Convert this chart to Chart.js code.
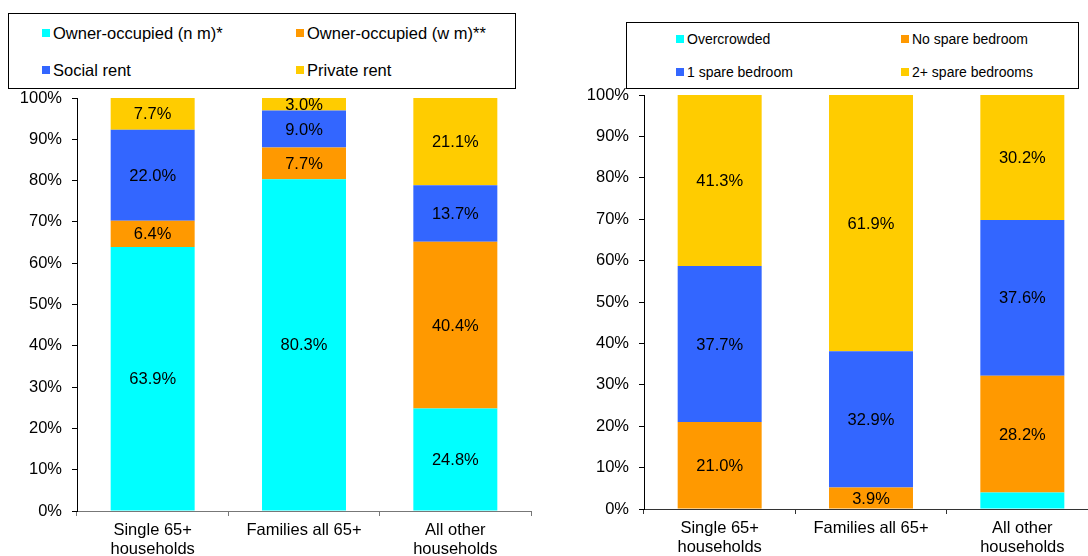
<!DOCTYPE html>
<html>
<head>
<meta charset="utf-8">
<script src="https://cdn.jsdelivr.net/npm/chart.js@4/dist/chart.umd.min.js"></script>
<style>
  html, body { margin:0; padding:0; width:1088px; height:556px; overflow:hidden; background:#fff; font-family:"Liberation Sans", Arial, sans-serif; }
  .wrap { position:absolute; top:0; }
  .legend { position:absolute; border:1px solid #000; box-sizing:border-box; background:#fff; }
  .item { position:absolute; display:flex; align-items:center; white-space:nowrap; color:#000; }
  .sw { width:8px; height:8px; margin-right:3px; flex:none; }
</style>
</head>
<body>
<div class="wrap" style="left:0;width:544px;height:556px;"><canvas id="c1"></canvas></div>
<div class="wrap" style="left:544px;width:560px;height:556px;"><canvas id="c2"></canvas></div>
<div id="lg1" class="legend" style="left:8px;top:13px;width:508px;height:76px;"></div>
<div id="lg2" class="legend" style="left:626px;top:22px;width:453px;height:67px;"></div>
<script>
// ---- data ----
const categories = [['Single 65+', 'households'], ['Families all 65+'], ['All other', 'households']];
const yTicks = [0, 10, 20, 30, 40, 50, 60, 70, 80, 90, 100];

const tenureNames = ['Owner-occupied (n m)*', 'Owner-occupied (w m)**', 'Social rent', 'Private rent'];
const ownerNoMortgage = [63.9, 80.3, 24.8];
const ownerWithMortgage = [6.4, 7.7, 40.4];
const socialRent = [22.0, 9.0, 13.7];
const privateRent = [7.7, 3.0, 21.1];

const bedroomNames = ['Overcrowded', 'No spare bedroom', '1 spare bedroom', '2+ spare bedrooms'];
const overcrowded = [0, 0, 4.0];
const noSpareBedroom = [21.0, 5.2, 28.2];
const noSpareBedroomText = ['21.0%', '3.9%', '28.2%'];
const oneSpareBedroom = [37.7, 32.9, 37.6];
const twoPlusSpareBedrooms = [41.3, 61.9, 30.2];

const colors = ['#00FFFF', '#FF9900', '#3366FF', '#FFCC00'];

// ---- helpers ----
const FONT = '"Liberation Sans", Arial, sans-serif';
const pct = arr => arr.map(v => v.toFixed(1) + '%');

const segLabels = {
  id: 'segLabels',
  afterDatasetsDraw(chart) {
    const ctx = chart.ctx, a = chart.chartArea;
    ctx.save();
    ctx.beginPath();
    ctx.rect(a.left, a.top, a.right - a.left, a.bottom - a.top);
    ctx.clip();
    ctx.font = '16.5px ' + FONT;
    ctx.fillStyle = '#000';
    ctx.textAlign = 'center';
    ctx.textBaseline = 'middle';
    chart.data.datasets.forEach((ds, i) => {
      if (!ds.labelText) return;
      chart.getDatasetMeta(i).data.forEach((el, j) => {
        const t = ds.labelText[j];
        if (!t) return;
        ctx.fillText(t, el.x, (el.y + el.base) / 2 + 1);
      });
    });
    ctx.restore();
  }
};

function makeChart(id, datasets, opts) {
  return new Chart(document.getElementById(id), {
    type: 'bar',
    data: { labels: categories, datasets },
    plugins: [segLabels],
    options: {
      responsive: true,
      maintainAspectRatio: false,
      animation: false,
      layout: { padding: { top: opts.top, right: opts.right, left: 0, bottom: 0 } },
      plugins: { legend: { display: false }, tooltip: { enabled: false } },
      datasets: { bar: { categoryPercentage: 1.0, barPercentage: 0.555, borderWidth: 0 } },
      scales: {
        x: {
          stacked: true,
          afterFit: s => { s.height = opts.xh; },
          grid: { offset: true, drawOnChartArea: false, drawTicks: true, tickLength: 5, color: opts.xColor, lineWidth: 1 },
          border: { display: true, color: opts.xColor, width: 1 },
          ticks: { color: '#000', font: { family: FONT, size: 16.5, lineHeight: 1.15 }, padding: 5, maxRotation: 0, autoSkip: false }
        },
        y: {
          stacked: true,
          min: 0, max: 100,
          afterFit: s => { s.width = opts.yw; },
          afterBuildTicks: s => { s.ticks = yTicks.map(v => ({ value: v })); },
          grid: { drawOnChartArea: false, drawTicks: true, tickLength: 5, color: '#000', lineWidth: 1 },
          border: { display: true, color: '#000', width: 1 },
          ticks: { color: '#000', font: { family: FONT, size: 16.5 }, padding: 10, callback: v => v + '%' }
        }
      }
    }
  });
}

makeChart('c1', [
  { label: tenureNames[0], data: ownerNoMortgage, backgroundColor: colors[0], labelText: pct(ownerNoMortgage) },
  { label: tenureNames[1], data: ownerWithMortgage, backgroundColor: colors[1], labelText: pct(ownerWithMortgage) },
  { label: tenureNames[2], data: socialRent, backgroundColor: colors[2], labelText: pct(socialRent) },
  { label: tenureNames[3], data: privateRent, backgroundColor: colors[3], labelText: pct(privateRent) }
], { top: 98, right: 13, xh: 45, yw: 77, xColor: '#777' });

makeChart('c2', [
  { label: bedroomNames[0], data: overcrowded, backgroundColor: colors[0], labelText: null },
  { label: bedroomNames[1], data: noSpareBedroom, backgroundColor: colors[1], labelText: noSpareBedroomText },
  { label: bedroomNames[2], data: oneSpareBedroom, backgroundColor: colors[2], labelText: pct(oneSpareBedroom) },
  { label: bedroomNames[3], data: twoPlusSpareBedrooms, backgroundColor: colors[3], labelText: pct(twoPlusSpareBedrooms) }
], { top: 95, right: 6, xh: 47, yw: 100, xColor: '#333' });

// ---- HTML legends (two columns, two rows) ----
function buildLegend(elId, names, cols, rows, fontSize) {
  const box = document.getElementById(elId);
  names.forEach((n, i) => {
    const it = document.createElement('div');
    it.className = 'item';
    it.style.left = cols[i % 2] + 'px';
    it.style.top = rows[Math.floor(i / 2)] + 'px';
    it.style.fontSize = fontSize + 'px';
    it.style.height = '20px';
    it.style.transform = 'translateY(-50%)';
    const sw = document.createElement('span');
    sw.className = 'sw';
    sw.style.background = colors[i];
    const tx = document.createElement('span');
    tx.textContent = n;
    it.appendChild(sw); it.appendChild(tx);
    box.appendChild(it);
  });
}
buildLegend('lg1', tenureNames, [33, 287], [19, 56], 16.5);
buildLegend('lg2', bedroomNames, [49, 274], [16, 49], 14);
</script>
</body>
</html>
